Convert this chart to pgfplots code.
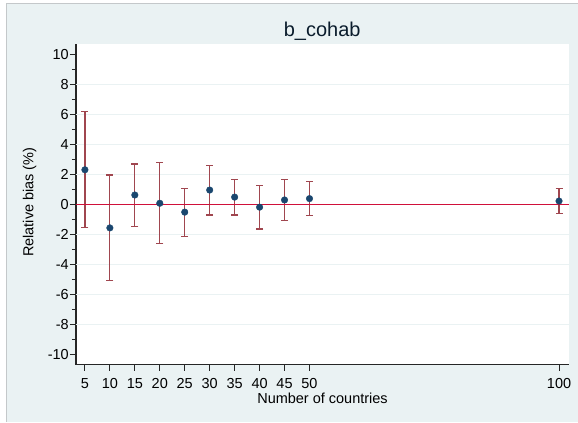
\documentclass[border=0pt]{standalone}
\usepackage{pgfplots}
\pgfplotsset{compat=1.18}
\usepackage{pgfplotstable}
\usepackage{fontspec}
\setmainfont{Liberation Sans}
\definecolor{bgc}{HTML}{EAF2F3}
\definecolor{gridc}{HTML}{EAF2F3}
\definecolor{navy}{HTML}{1A476F}
\definecolor{bar}{HTML}{A0464F}
\definecolor{zline}{HTML}{D0103A}
\definecolor{frame}{HTML}{C4C8CA}
\pgfplotstableread{
x y ep em
5 2.30 3.87 3.87
10 -1.57 3.52 3.53
15 0.62 2.06 2.08
20 0.07 2.70 2.70
25 -0.52 1.60 1.60
30 0.95 1.66 1.66
35 0.48 1.19 1.19
40 -0.19 1.45 1.45
45 0.29 1.38 1.38
50 0.38 1.15 1.15
100 0.22 0.84 0.84
}\datatable
\begin{document}
\begin{tikzpicture}[x=1pt,y=1pt]
\fill[white] (0,0) rectangle (578,422);
\fill[bgc] (7,0) rectangle (578,418);
\draw[frame, line width=1pt] (7,0) -- (7,418) -- (578,418);
\begin{axis}[
  at={(76pt,57pt)}, anchor=south west,
  scale only axis, width=493pt, height=321pt,
  xmin=3.2, xmax=101.9, ymin=-10.68, ymax=10.68,
  axis x line*=bottom, axis y line*=left,
  axis line style={line width=1.4pt, color=black!85, -},
  axis background/.style={fill=white},
  xtick={5,10,15,20,25,30,35,40,45,50,100},
  ytick={-10,-8,...,10},
  minor ytick={-9,-7,...,9},
  extra y ticks={-8,-6,-4,-2,2,4,6,8},
  extra y tick labels={},
  extra y tick style={grid=major, major tick length=0pt},
  major grid style={gridc, line width=1.3pt},
  tick align=outside,
  major tick length=6pt, minor tick length=4pt,
  tick style={line width=1pt, color=black!85},
  /pgf/number format/assume math mode=true,
  ticklabel style={font=\fontsize{14.5}{17}\selectfont},
  yticklabel style={inner sep=1pt},
  xticklabel style={inner sep=0pt, yshift=-7.5pt},
  clip=false,
]
\addplot[draw=none, mark=none, forget plot,
  error bars/.cd, y dir=both, y explicit,
  error bar style={bar, line width=1.2pt},
  error mark options={rotate=90, bar, line width=1.2pt, mark size=3.5pt}]
  table[x=x, y=y, y error plus=ep, y error minus=em]{\datatable};
\addplot[zline, line width=1.3pt, mark=none, forget plot] coordinates {(3.2,0) (101.9,0)};
\addplot[only marks, mark=*, mark size=3.3pt, mark options={fill=navy, draw=navy}]
  table[x=x, y=y]{\datatable};
\end{axis}
\node[anchor=base, font=\fontsize{20}{24}\selectfont, text=black!60!navy] at (322.5,385.3) {b\_cohab};
\node[anchor=base, rotate=90, font=\fontsize{14.5}{17}\selectfont] at (33.5,219.6) {Relative bias (\%)};
\node[anchor=base, inner sep=0pt, font=\fontsize{14.5}{17}\selectfont] at (322.8,18.5) {Number of countries};
\useasboundingbox (0,0) rectangle (578,422);
\end{tikzpicture}
\end{document}
